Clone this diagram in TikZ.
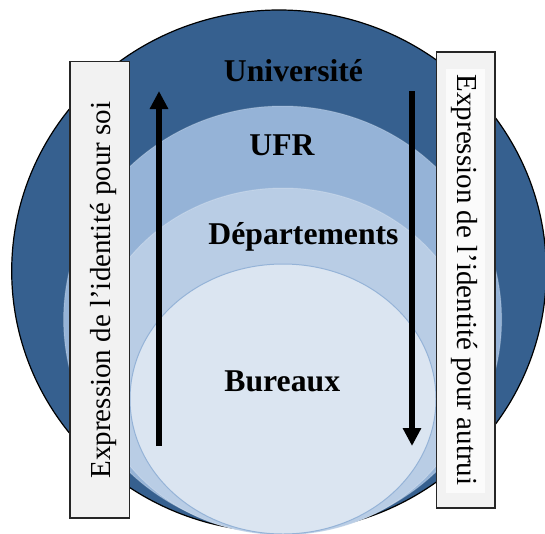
\documentclass[tikz,border=0pt]{standalone}
\usepackage{fontspec}
\setmainfont{Liberation Serif}
\usetikzlibrary{arrows.meta}
\definecolor{cUniv}{HTML}{36608F}
\definecolor{cUFR}{HTML}{95B3D7}
\definecolor{cDep}{HTML}{B9CDE5}
\definecolor{cBur}{HTML}{DBE5F1}
\definecolor{cBox}{HTML}{F2F2F2}
\definecolor{cBoxIn}{HTML}{FBFBFB}
\begin{document}
\begin{tikzpicture}[x=1pt,y=-1pt,
  lvltext/.style={font=\fontsize{31.7}{36}\selectfont\bfseries, anchor=base, inner sep=0pt},
  vtext/.style={font=\fontsize{29}{34}\selectfont, anchor=base, inner sep=0pt},
  sidebox/.style={draw=black!85, line width=1.3pt, fill=cBox, inner sep=0pt},
  rim/.style={draw=white, draw opacity=0.2, line width=1pt},
  flow/.style={line width=5.5pt, -{Triangle[width=17.5pt,length=18pt]}}]
\useasboundingbox (0,0) rectangle (545,533);
\clip (0,0) rectangle (545,533);
% nested levels
\filldraw[fill=cUniv, draw=black, line width=1.2pt] (279,271) ellipse [x radius=267.3pt, y radius=261pt];
\filldraw[fill=cUFR, rim] (282.6,319.5) ellipse [x radius=219pt, y radius=213.5pt];
\filldraw[fill=cDep, rim] (283,361.5) ellipse [x radius=191.7pt, y radius=173.5pt];
\filldraw[fill=cBur, draw=cUFR, line width=1pt] (283,399) ellipse [x radius=153pt, y radius=135pt];
% side boxes
\node[sidebox, minimum width=59.5pt, minimum height=456.3pt] (boxL) at (99.75,289.85) {};
\node[sidebox, minimum width=58.3pt, minimum height=456pt] (boxR) at (465.85,280) {};
\node[fill=cBoxIn, inner sep=0pt, minimum width=39pt, minimum height=424pt] (boxRin) at (465.5,281) {};
\node[vtext, rotate=90] (txtL) at (110,290) {Expression de l’identité pour soi};
\node[vtext, rotate=-90] (txtR) at (457,280) {Expression de l’identité pour autrui};
% arrows
\coordinate (aLs) at (159,446);
\coordinate (aLe) at (159,91);
\coordinate (aRs) at (412,91);
\coordinate (aRe) at (412,446);
\draw[flow] (aLs) -- (aLe);
\draw[flow] (aRs) -- (aRe);
% level labels
\node[lvltext] (univ) at (293.5,81) {Université};
\node[lvltext] (ufr) at (282,155) {UFR};
\node[lvltext] (dep) at (303.5,244.7) {Départements};
\node[lvltext] (bur) at (282.3,391.5) {Bureaux};
\end{tikzpicture}
\end{document}
